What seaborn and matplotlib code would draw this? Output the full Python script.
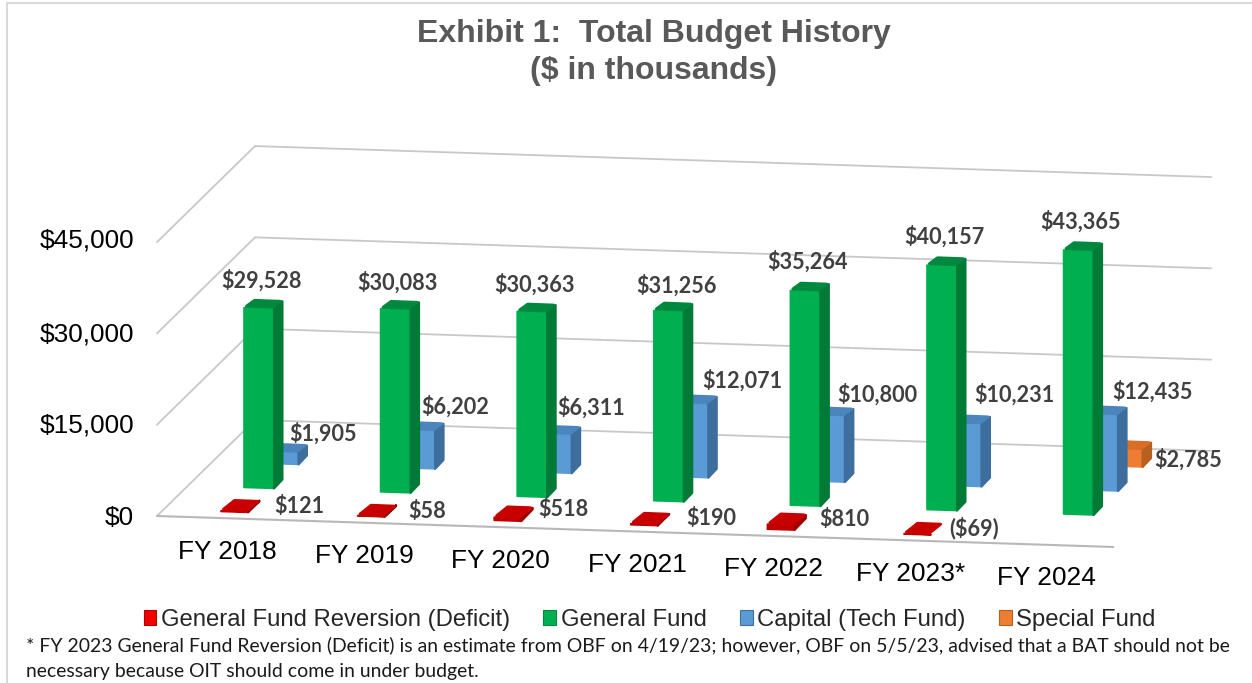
import matplotlib
matplotlib.use("Agg")
import matplotlib.pyplot as plt
from matplotlib.patches import Patch
from matplotlib.transforms import Affine2D
import numpy as np
import seaborn as sns

# ---- data ----
years = ["FY 2018", "FY 2019", "FY 2020", "FY 2021", "FY 2022", "FY 2023*", "FY 2024"]
reversion = [121, 58, 518, 190, 810, -69, np.nan]
general_fund = [29528, 30083, 30363, 31256, 35264, 40157, 43365]
capital_fund = [1905, 6202, 6311, 12071, 10800, 10231, 12435]
special_fund = [np.nan, np.nan, np.nan, np.nan, np.nan, np.nan, 2785]
y_ticks = [0, 15000, 30000, 45000]
series_names = ["General Fund Reversion (Deficit)", "General Fund", "Capital (Tech Fund)", "Special Fund"]
title_text = "Exhibit 1:  Total Budget History\n($ in thousands)"
note_text = ("* FY 2023 General Fund Reversion (Deficit) is an estimate from OBF on 4/19/23; however, OBF on 5/5/23, "
             "advised that a BAT should not be\nnecessary because OIT should come in under budget.")

# ---- style ----
sns.set_theme(style="white")
plt.rcParams["font.family"] = ["Liberation Sans", "DejaVu Sans"]
W, H = 1252, 683
fig = plt.figure(figsize=(W / 100, H / 100), dpi=100, facecolor="white")
ax = fig.add_axes([0, 0, 1, 1])

# oblique projection of the 3-D chart box: category, depth, value -> figure pixels
ORG_X, ORG_Y = 157.0, 516.0
SLOT = 136.6
SLOPE = 0.0324
PER_VALUE = 91.3 / 15000
DEPTH_Y = 0.98
BOX_DEPTH = 98.0
CENTER = 71.0

def project(i, v, d, center=CENTER):
    u = SLOT * np.asarray(i, float) + center
    return ORG_X + u + d, ORG_Y + SLOPE * u - DEPTH_Y * d - PER_VALUE * np.asarray(v, float)

def plane(d):
    """Affine map (category index, value) -> pixels at depth d."""
    x0, y0 = project(0, 0, d)
    return Affine2D.from_values(SLOT, SLOT * SLOPE, 0, -PER_VALUE, x0, y0) + ax.transData

# ---- walls ----
GRID = "#c8c8c8"
left_i = -CENTER / SLOT
right_i = 7 - CENTER / SLOT
for tick in y_ticks:
    xs = [project(left_i, tick, 0)[0], project(left_i, tick, BOX_DEPTH)[0], project(right_i, tick, BOX_DEPTH)[0]]
    ys = [project(left_i, tick, 0)[1], project(left_i, tick, BOX_DEPTH)[1], project(right_i, tick, BOX_DEPTH)[1]]
    ax.plot(xs, ys, color=GRID, lw=1.3, zorder=0, solid_joinstyle="miter")
x1, y1 = project([left_i, right_i], 0, 0)
ax.plot(x1, y1, color="#b8b8b8", lw=1.5, zorder=0)

# ---- bars, back row first ----
rows = [
    (special_fund, 80.0, 30, 9, "#ED7D31", "#B85F22", "#D96F26"),
    (capital_fund, 55.5, 30, 9, "#5B9BD5", "#3E6E9E", "#4A85BE"),
    (general_fund, 31.0, 30, 9, "#00B050", "#007A37", "#00893E"),
    (reversion, 6.5, 27, 12, "#C00000", "#A00000", "#C80000"),
]
for values, depth, width_px, bar_depth, front, side, top in rows:
    w = width_px / SLOT
    sns.barplot(x=years, y=values, order=years, ax=ax, color=front, saturation=1, width=w,
                errorbar=None, transform=plane(depth), edgecolor=front, linewidth=1.2,
                joinstyle="round")
    for i, v in enumerate(values):
        if np.isnan(v):
            continue
        vt = max(v, 0)
        xa, ya = project(i - w / 2, vt, depth)
        xb, yb = project(i + w / 2, vt, depth)
        xc, yc = project(i + w / 2, vt, depth + bar_depth)
        xd, yd = project(i - w / 2, vt, depth + bar_depth)
        xe, ye = project(i + w / 2, 0, depth)
        xf, yf = project(i + w / 2, 0, depth + bar_depth)
        if v > 0:
            ax.fill([xe, xb, xc - 0.6, xf - 0.6], [ye, yb, yc + 1.5, yf], facecolor=side, edgecolor=side,
                    lw=1.6, joinstyle="round")
        # the top is inset and stroked with a round join, which softens its corners
        ax.fill([xa + 2.5, xb - 1.5, xc - 2.5, xd + 1.5], [ya - 1.5, yb - 1.5, yc + 1.5, yd + 1.5],
                facecolor=top, edgecolor=top, lw=2.16, joinstyle="round")

# ---- data labels: anchored on each bar top, nudged in pixels ----
def money(v):
    return f"(${abs(v):,.0f})" if v < 0 else f"${v:,.0f}"

nudges = [
    (reversion, 6.5, [(64.5, -5), (56, -5), (56, -8.5), (67, -6), (63, -5.6), (56.5, -6), None]),
    (general_fund, 31.0, [(2.5, -28), (2, -27), (2.5, -27), (7.5, -25), (2.5, -29), (2.5, -28.6), (2, -29)]),
    (capital_fund, 55.5, [(39.5, -19), (35, -24), (34, -27), (49, -23), (47, -21), (47.5, -29), (49, -23)]),
    (special_fund, 80.0, [None, None, None, None, None, None, (60.5, 10)]),
]
for values, depth, offs in nudges:
    for i, (v, off) in enumerate(zip(values, offs)):
        if off is None:
            continue
        x, y = project(i, max(v, 0), depth)
        ax.text(x + off[0], y + off[1], money(v), ha="center", va="center", fontsize=15.6,
                fontweight="bold", family="Lato", color="#404040", zorder=5)

# ---- axis labels ----
tick_nudges = [2, 1, 1, -2]
for tick, nudge in zip(y_ticks, tick_nudges):
    x, y = project(left_i, tick, 0)
    ax.text(x - 23, y + nudge, f"${tick:,.0f}", ha="right", va="center", fontsize=18.9, color="black", zorder=5)
for i, label in enumerate(years):
    x, y = project(i, 0, 0, center=SLOT / 2)
    ax.text(x + 2, y + 33.5, label, ha="center", va="center", fontsize=18.9, color="black", zorder=5)

# ---- title, legend, note ----
ax.text(654, 52.5, title_text, ha="center", va="center", fontsize=23, fontweight="bold",
        color="#595959", linespacing=1.27)
handles = [Patch(facecolor=c, edgecolor=e, lw=0.8) for c, e in
           [("#F00000", "#B00000"), ("#00B050", "#008A3E"), ("#5B9BD5", "#3E6E9E"), ("#ED7D31", "#B85F22")]]
ax.legend(handles, series_names, ncol=4, frameon=False, fontsize=17.2, loc="center left",
          bbox_to_anchor=(143.5 / W, 1 - 620 / H), bbox_transform=fig.transFigure, borderpad=0,
          handlelength=0.54, handleheight=0.54, handletextpad=0.2, columnspacing=1.38, borderaxespad=0)
ax.text(26, 658.5, note_text, ha="left", va="center", fontsize=13.97, family="Lato", color="#1a1a1a", linespacing=1.63)

# ---- frame ----
ax.plot([7, 7], [2.5, H], color="#d9d9d9", lw=1.5, zorder=0)
ax.plot([7, W], [2.5, 2.5], color="#d9d9d9", lw=1.5, zorder=0)

ax.set_xlim(0, W)
ax.set_ylim(H, 0)
ax.set_axis_off()
fig.savefig("out.png", dpi=100, facecolor="white")
